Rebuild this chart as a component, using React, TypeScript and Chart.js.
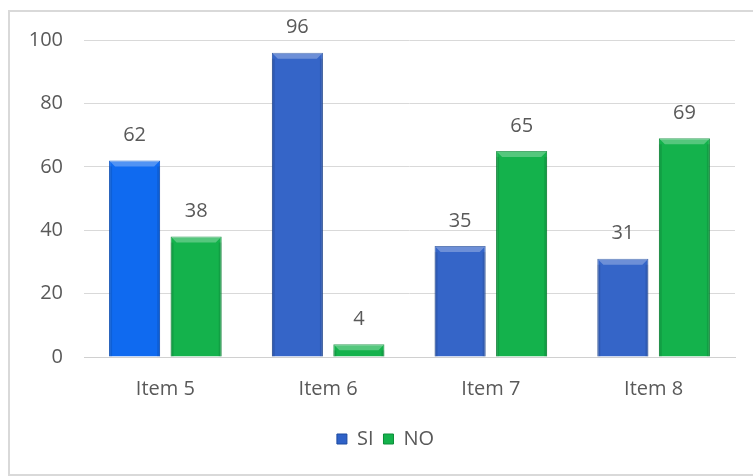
import React, { useEffect, useRef } from "react";
import { Chart, registerables } from "chart.js";

Chart.register(...registerables);

const categories = ["Item 5", "Item 6", "Item 7", "Item 8"];
const siValues = [62, 96, 35, 31];
const noValues = [38, 4, 65, 69];
const yTicks = [0, 20, 40, 60, 80, 100];

const SI_COLORS = ["#0f6af0", "#3565c8", "#3565c8", "#3565c8"];
const SI_BORDERS = ["#0a55c8", "#26509f", "#26509f", "#26509f"];
const NO_COLOR = "#14b24c";
const NO_BORDER = "#0b8d38";
const FONT = "'Open Sans', Lato, sans-serif";

const valueLabels = {
  id: "valueLabels",
  afterDatasetsDraw(chart: any) {
    const ctx = chart.ctx;
    ctx.save();
    chart.data.datasets.forEach((ds: any, i: number) => {
      const meta = chart.getDatasetMeta(i);
      meta.data.forEach((el: any) => {
        const half = el.width / 2;
        const l = el.x - half;
        const r = el.x + half;
        const t = el.y;
        const b = el.base;
        const bev = Math.min(6, (b - t) / 2);
        ctx.fillStyle = "rgba(255,255,255,0.28)";
        ctx.beginPath();
        ctx.moveTo(l, t);
        ctx.lineTo(r, t);
        ctx.lineTo(r - bev, t + bev);
        ctx.lineTo(l + bev, t + bev);
        ctx.closePath();
        ctx.fill();
        ctx.fillStyle = "rgba(0,0,0,0.10)";
        ctx.fillRect(l, t + bev, 3, b - t - bev);
        ctx.fillRect(r - 3, t + bev, 3, b - t - bev);
      });
    });
    ctx.fillStyle = "#595959";
    ctx.font = `20px ${FONT}`;
    ctx.textAlign = "center";
    ctx.textBaseline = "middle";
    chart.data.datasets.forEach((ds: any, i: number) => {
      const meta = chart.getDatasetMeta(i);
      meta.data.forEach((el: any, j: number) => {
        ctx.fillText(String(ds.data[j]), el.x, el.y - 25);
      });
    });
    ctx.restore();
  },
};

const shiftLegend = {
  id: "shiftLegend",
  afterLayout(chart: any) {
    if (chart.legend) {
      chart.legend.left += 18;
      chart.legend.right += 18;
    }
  },
};

export default function App() {
  const ref = useRef<HTMLCanvasElement | null>(null);
  useEffect(() => {
    if (!ref.current) return;
    const chart = new Chart(ref.current, {
      type: "bar",
      data: {
        labels: categories,
        datasets: [
          {
            label: "SI",
            data: siValues,
            backgroundColor: SI_COLORS,
            borderColor: SI_BORDERS,
            borderWidth: 1,
            categoryPercentage: 0.756,
            barPercentage: 0.83,
          },
          {
            label: "NO",
            data: noValues,
            backgroundColor: NO_COLOR,
            borderColor: NO_BORDER,
            borderWidth: 1,
            categoryPercentage: 0.756,
            barPercentage: 0.83,
          },
        ],
      },
      options: {
        animation: false,
        responsive: false,
        maintainAspectRatio: false,
        layout: { padding: { left: 0, right: 18, top: 40, bottom: 17 } },
        plugins: {
          tooltip: { enabled: false },
          legend: {
            position: "bottom",
            labels: {
              boxWidth: 10,
              boxHeight: 10,
              padding: 10,
              color: "#595959",
              font: { size: 20, family: FONT },
              generateLabels: () => [
                { text: "SI", fillStyle: "#2f62c8", strokeStyle: "#1d4aa0", lineWidth: 1, datasetIndex: 0, fontColor: "#595959" },
                { text: "NO", fillStyle: NO_COLOR, strokeStyle: NO_BORDER, lineWidth: 1, datasetIndex: 1, fontColor: "#595959" },
              ],
            },
          },
        },
        scales: {
          x: {
            grid: { display: false, drawTicks: false },
            border: { color: "#d0d0d0", width: 1 },
            ticks: { color: "#595959", font: { size: 20, family: FONT }, padding: 20 },
            afterFit: (s: any) => {
              s.height = 62;
            },
          },
          y: {
            min: 0,
            max: 100,
            afterBuildTicks: (s: any) => {
              s.ticks = yTicks.map((v) => ({ value: v }));
            },
            grid: { color: "#d9d9d9", drawTicks: false },
            border: { display: false },
            ticks: { color: "#595959", font: { size: 20, family: FONT }, padding: 21 },
            afterFit: (s: any) => {
              s.width = 84;
            },
          },
        },
      },
      plugins: [valueLabels, shiftLegend],
    });
    return () => chart.destroy();
  }, []);

  return (
    <div style={{ position: "absolute", left: 0, top: 0, width: 753, height: 476, overflow: "hidden", background: "#fff" }}>
      <div
        style={{
          position: "absolute",
          left: 8,
          top: 10,
          width: 760,
          height: 462,
          border: "2px solid #d9d9d9",
        }}
      />
      <canvas ref={ref} width={753} height={476} style={{ position: "absolute", left: 0, top: 0 }} />
    </div>
  );
}
